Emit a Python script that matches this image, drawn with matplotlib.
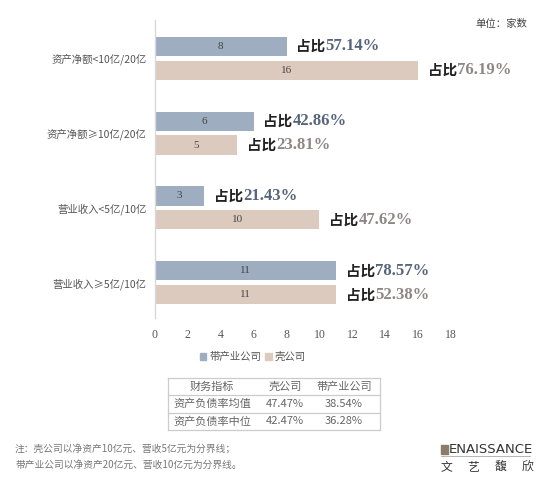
import matplotlib
matplotlib.use("Agg")
import matplotlib.pyplot as plt
from matplotlib.patches import Rectangle
from matplotlib.lines import Line2D

plt.rcParams['font.family'] = ['Noto Sans CJK SC', 'DejaVu Sans']

categories = ['资产净额<10亿/20亿', '资产净额≥10亿/20亿', '营业收入<5亿/10亿', '营业收入≥5亿/10亿']
industry_vals = [8, 6, 3, 11]
shell_vals = [16, 5, 10, 11]
industry_pct = ['57.14%', '42.86%', '21.43%', '78.57%']
shell_pct = ['76.19%', '23.81%', '47.62%', '52.38%']
series_names = ['带产业公司', '壳公司']
xticks = [0, 2, 4, 6, 8, 10, 12, 14, 16, 18]

table_header = ['财务指标', '壳公司', '带产业公司']
table_rows = [['资产负债率均值', '47.47%', '38.54%'],
              ['资产负债率中位', '42.47%', '36.28%']]

c_ind = '#9eadbf'
c_shell = '#dccabf'
c_ind_txt = '#56657c'
c_shell_txt = '#8e8682'
serif = ['Liberation Serif', 'DejaVu Serif']

W, H = 550, 482
fig = plt.figure(figsize=(W / 100, H / 100), dpi=100)
fig.patch.set_facecolor('white')

def fx(px):
    return px / W

def fy(py):
    return 1 - py / H

ax = fig.add_axes([fx(155), fy(318), fx(451) - fx(155), (318 - 20) / H])
ax.set_xlim(0, 18)
ax.set_ylim(3.47, -0.51)

pos = list(range(len(categories)))
off = 0.16
h = 0.255
ax.barh([p - off for p in pos], industry_vals, height=h, color=c_ind)
ax.barh([p + off for p in pos], shell_vals, height=h, color=c_shell)

def pct_label(v, y, pct, color):
    t = ax.annotate('占比', xy=(v, y), xytext=(7, 0), textcoords='offset points',
                    ha='left', va='center', fontsize=10.5, fontweight='bold', color='#222222')
    ax.annotate(pct, xy=(1, 0.5), xycoords=t, xytext=(0, 0), textcoords='offset points',
                ha='left', va='center', fontsize=12, fontweight='bold', color=color,
                family=serif)

for p, v, pct in zip(pos, industry_vals, industry_pct):
    ax.text(v / 2, p - off, str(v), ha='center', va='center', fontsize=8,
            color='#444444', family=serif)
    pct_label(v, p - off, pct, c_ind_txt)

for p, v, pct in zip(pos, shell_vals, shell_pct):
    ax.text(v / 2, p + off, str(v), ha='center', va='center', fontsize=8,
            color='#444444', family=serif)
    pct_label(v, p + off, pct, c_shell_txt)

ax.set_yticks(pos)
ax.set_yticklabels(categories, fontsize=7.5, color='#555555')
ax.set_xticks(xticks)
ax.set_xticklabels([str(x) for x in xticks], fontsize=8.5, color='#555555', family=serif)
ax.tick_params(axis='both', length=0)
ax.tick_params(axis='x', pad=8)
ax.tick_params(axis='y', pad=6)
for s in ['top', 'right', 'bottom']:
    ax.spines[s].set_visible(False)
ax.spines['left'].set_color('#d9d9d9')
ax.spines['left'].set_linewidth(1)

# legend
handles = [Rectangle((0, 0), 1, 1, color=c_ind), Rectangle((0, 0), 1, 1, color=c_shell)]
fig.legend(handles, series_names, loc='center', bbox_to_anchor=(fx(253), fy(357)),
           ncol=2, frameon=False, fontsize=7.5, handlelength=0.6, handleheight=0.6,
           handletextpad=0.3, columnspacing=0.4, labelcolor='#555555')

# unit
fig.text(fx(527), fy(24), '单位：家数', ha='right', va='center', fontsize=7.5, color='#444444')

# table
tx0, tx1 = 168, 380
ty = [378, 395, 413, 430]
col_x = [212, 285, 344]
lc = '#cccccc'
for yv in ty:
    fig.add_artist(Line2D([fx(tx0), fx(tx1)], [fy(yv), fy(yv)], color=lc, lw=0.9))
for xv in [tx0, tx1]:
    fig.add_artist(Line2D([fx(xv), fx(xv)], [fy(ty[0]), fy(ty[-1])], color=lc, lw=0.9))
rows = [table_header] + table_rows
for r, row in enumerate(rows):
    yc = (ty[r] + ty[r + 1]) / 2
    for c, cell in enumerate(row):
        fig.text(fx(col_x[c]), fy(yc), cell, ha='center', va='center', fontsize=8,
                 color='#666666')

# notes
fig.text(fx(15), fy(449), '注：壳公司以净资产10亿元、营收5亿元为分界线；', ha='left', va='center',
         fontsize=7, color='#777777')
fig.text(fx(15), fy(465), '带产业公司以净资产20亿元、营收10亿元为分界线。', ha='left', va='center',
         fontsize=7, color='#777777')

# logo
fig.add_artist(Rectangle((fx(441), fy(454)), 7 / W, 9 / H, color='#8c7b68'))
fig.text(fx(449), fy(449.5), 'ENAISSANCE', ha='left', va='center', fontsize=9.5,
         color='#333333', family=['DejaVu Sans'])
fig.add_artist(Line2D([fx(441), fx(530)], [fy(456), fy(456)], color='#aaaaaa', lw=0.6))
for i, ch in enumerate('文艺馥欣'):
    fig.text(fx(446 + i * 27), fy(467), ch, ha='center', va='center', fontsize=8.5,
             color='#333333')

fig.savefig('out.png', dpi=100, facecolor='white')
